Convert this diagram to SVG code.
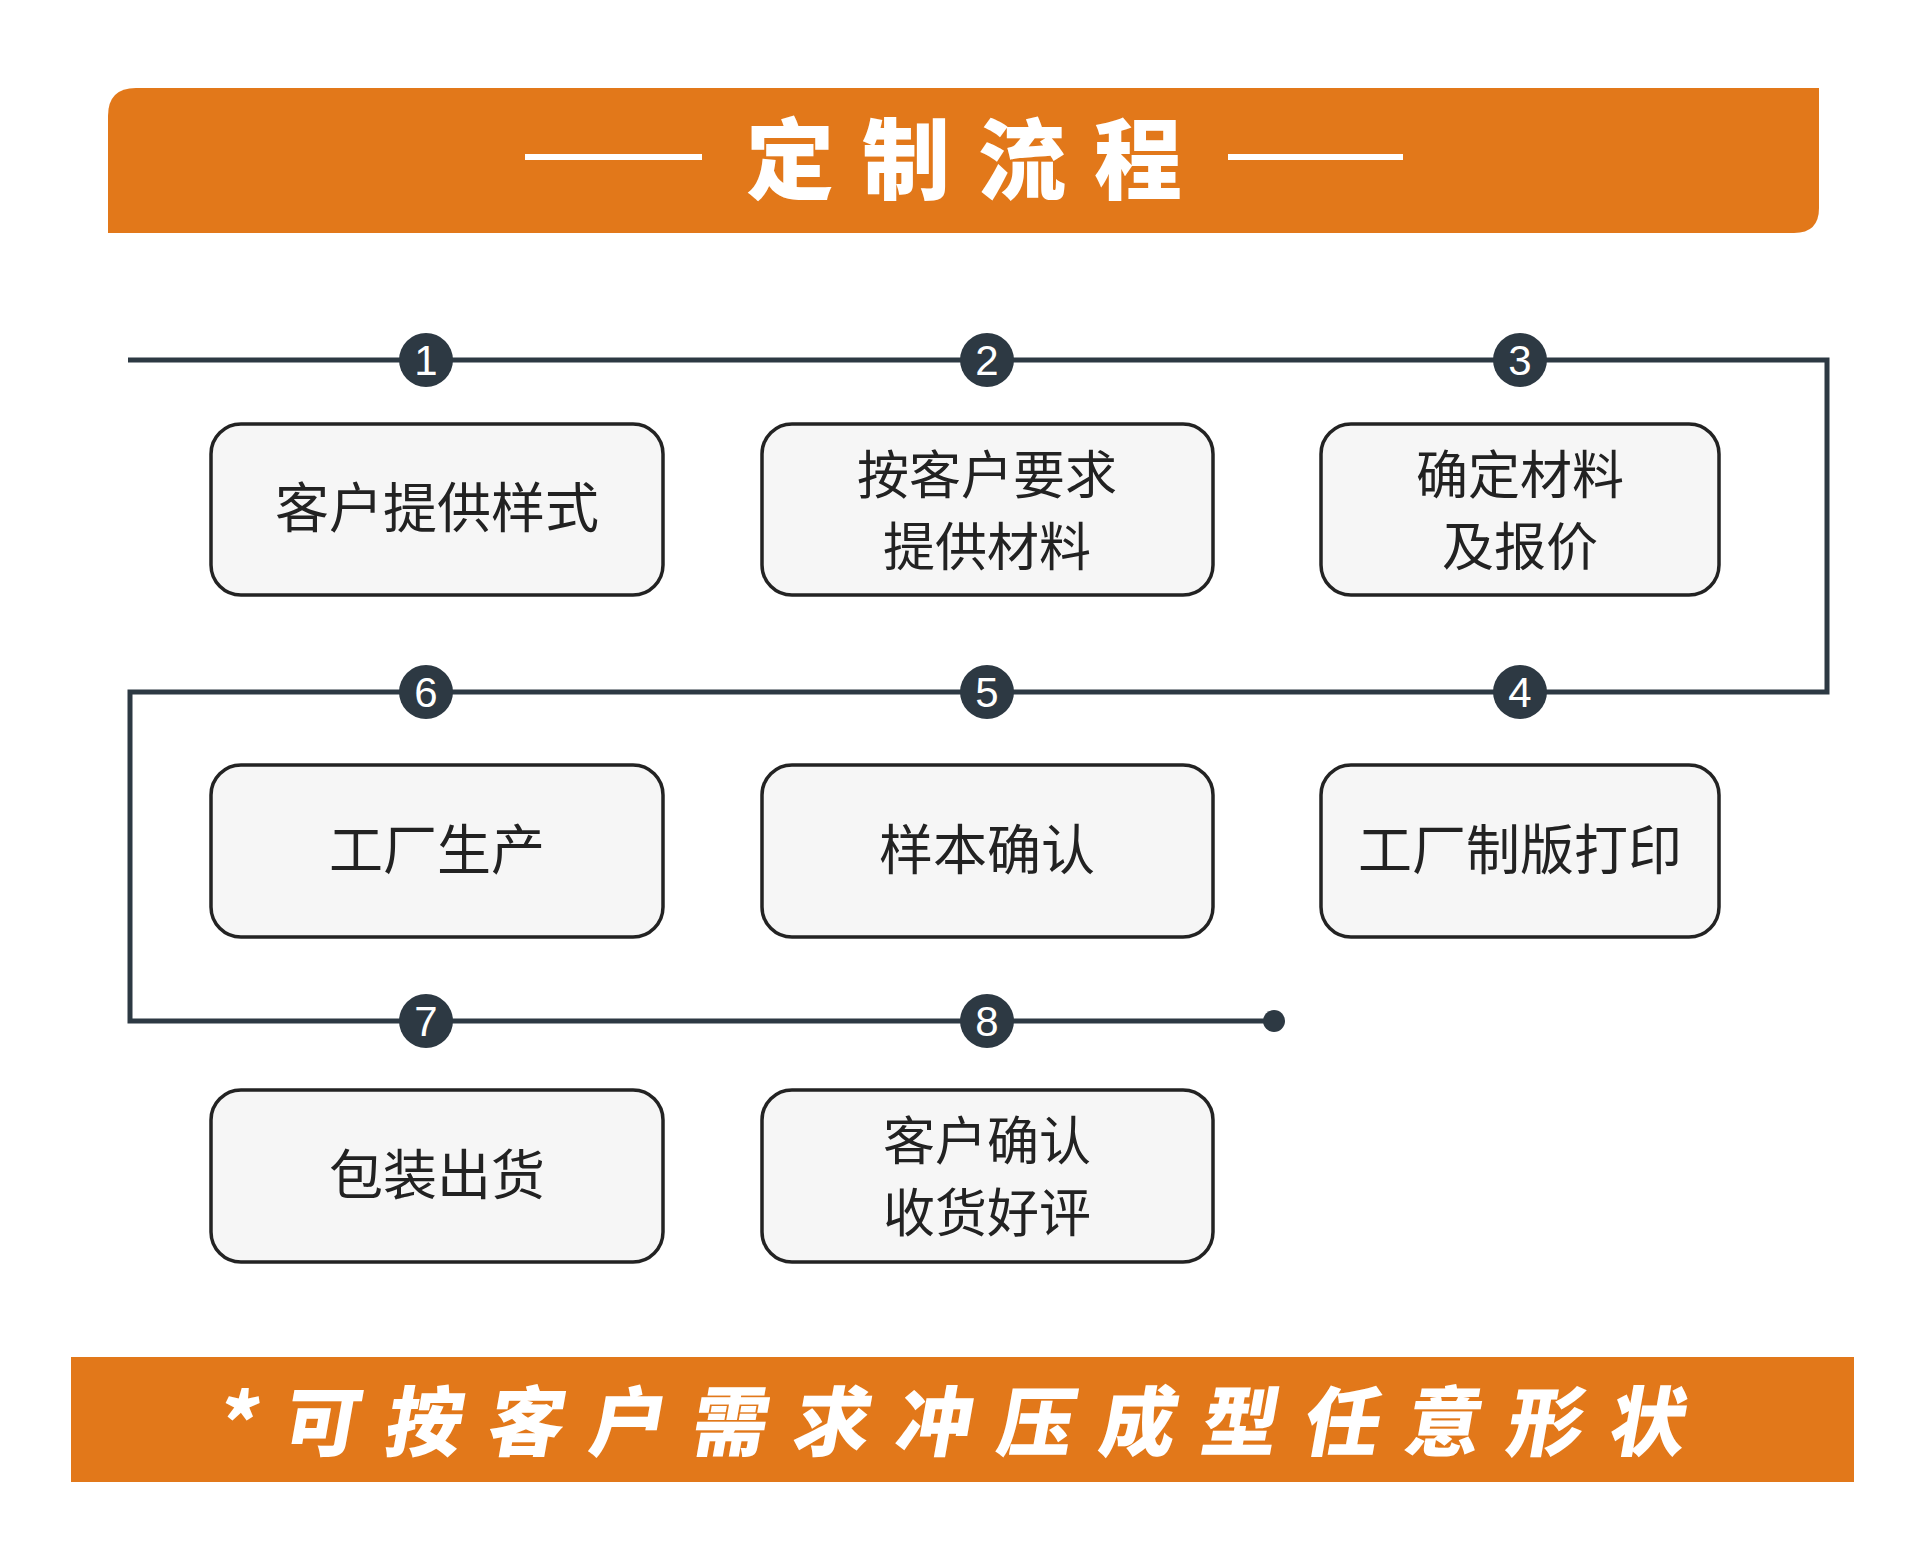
<svg xmlns="http://www.w3.org/2000/svg" width="1920" height="1564" viewBox="0 0 1920 1564">
<style>
.box{fill:#f6f6f6;stroke:#232323;stroke-width:3.5}
.t{font-family:"Noto Sans CJK SC","Noto Sans",sans-serif;font-size:54px;fill:#222;text-anchor:middle}
.t2{font-family:"Noto Sans CJK SC","Noto Sans",sans-serif;font-size:52px;fill:#222;text-anchor:middle}
.ln{stroke:#2d3943;stroke-width:5;fill:none}
.c{fill:#2d3943}
.n{font-family:"Liberation Sans",Arial,sans-serif;font-size:42px;fill:#fff;text-anchor:middle}
</style>
<rect width="1920" height="1564" fill="#fff"/>
<g id="header">
<path d="M136 88 H1819 V208 Q1819 233 1794 233 H108 V116 Q108 88 136 88 Z" fill="#e2781a"/>
<line x1="525" y1="157" x2="702" y2="157" stroke="#fff" stroke-width="6"/>
<line x1="1228" y1="157" x2="1403" y2="157" stroke="#fff" stroke-width="6"/>
<text x="978" y="192" font-family="Noto Sans CJK SC,sans-serif" font-weight="900" font-size="88" fill="#fff" text-anchor="middle" letter-spacing="28">定制流程</text>
</g>
<g id="connectors">
<polyline class="ln" points="128,360 1827,360 1827,692 130,692 130,1021 1274,1021"/>
<circle class="c" cx="1274" cy="1021" r="11"/>
</g>
<g id="markers">
<circle class="c" cx="426" cy="360" r="27"/><text class="n" x="426" y="375">1</text>
<circle class="c" cx="987" cy="360" r="27"/><text class="n" x="987" y="375">2</text>
<circle class="c" cx="1520" cy="360" r="27"/><text class="n" x="1520" y="375">3</text>
<circle class="c" cx="1520" cy="692" r="27"/><text class="n" x="1520" y="707">4</text>
<circle class="c" cx="987" cy="692" r="27"/><text class="n" x="987" y="707">5</text>
<circle class="c" cx="426" cy="692" r="27"/><text class="n" x="426" y="707">6</text>
<circle class="c" cx="426" cy="1021" r="27"/><text class="n" x="426" y="1036">7</text>
<circle class="c" cx="987" cy="1021" r="27"/><text class="n" x="987" y="1036">8</text>
</g>
<g id="n1"><rect class="box" x="211" y="424" width="452" height="171" rx="30"/><text class="t" x="437" y="528">客户提供样式</text></g>
<g id="n2"><rect class="box" x="762" y="424" width="451" height="171" rx="30"/><text class="t2" x="987" y="494">按客户要求</text><text class="t2" x="987" y="566">提供材料</text></g>
<g id="n3"><rect class="box" x="1321" y="424" width="398" height="171" rx="30"/><text class="t2" x="1520" y="494">确定材料</text><text class="t2" x="1520" y="566">及报价</text></g>
<g id="n4"><rect class="box" x="1321" y="765" width="398" height="172" rx="30"/><text class="t" x="1520" y="870">工厂制版打印</text></g>
<g id="n5"><rect class="box" x="762" y="765" width="451" height="172" rx="30"/><text class="t" x="987" y="870">样本确认</text></g>
<g id="n6"><rect class="box" x="211" y="765" width="452" height="172" rx="30"/><text class="t" x="437" y="870">工厂生产</text></g>
<g id="n7"><rect class="box" x="211" y="1090" width="452" height="172" rx="30"/><text class="t" x="437" y="1195">包装出货</text></g>
<g id="n8"><rect class="box" x="762" y="1090" width="451" height="172" rx="30"/><text class="t2" x="987" y="1160">客户确认</text><text class="t2" x="987" y="1232">收货好评</text></g>
<g id="footer">
<rect x="71" y="1357" width="1783" height="125" fill="#e2781a"/>
<text x="962" y="1450" font-family="Noto Sans CJK SC,sans-serif" font-weight="900" font-size="76" fill="#fff" text-anchor="middle" letter-spacing="26" transform="skewX(-10) translate(255 0)">*可按客户需求冲压成型任意形状</text>
</g>
</svg>
